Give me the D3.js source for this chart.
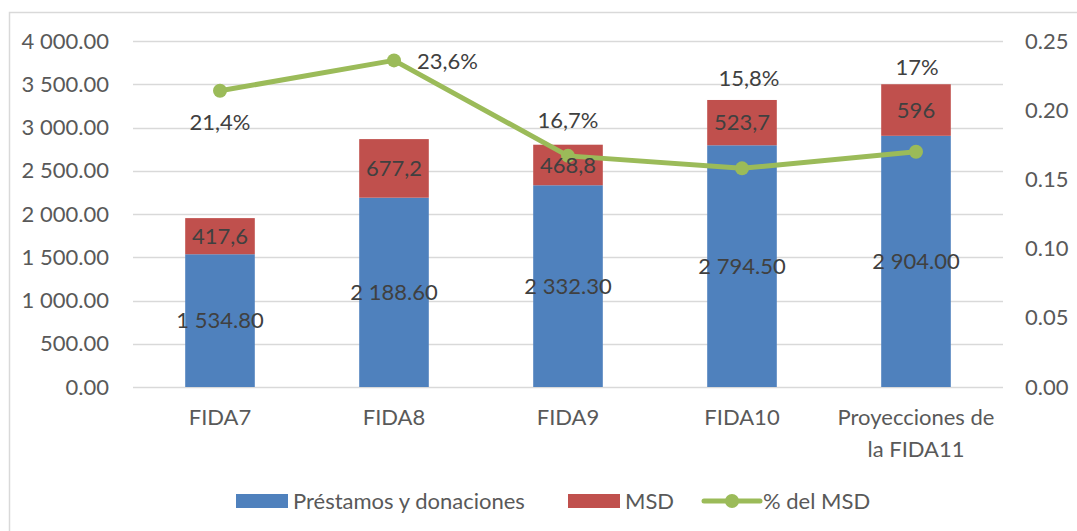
<!doctype html>
<html>
  <head>
    <meta charset="utf-8">
    <title>FIDA MSD</title>
    <style>
      * { margin: 0; padding: 0; }
      body { background: #fff; font-family: Lato, "Open Sans", sans-serif; }
      svg text { font-family: Lato, "Open Sans", sans-serif; }
    </style>
    <script src="https://d3js.org/d3.v7.min.js"></script>
  </head>
  <body>
    <script>
      // datos
      var categorias = [["FIDA7"], ["FIDA8"], ["FIDA9"], ["FIDA10"], ["Proyecciones de", "la FIDA11"]];
      var prestamos = [1534.8, 2188.6, 2332.3, 2794.5, 2904.0];
      var msd = [417.6, 677.2, 468.8, 523.7, 596];
      var pctMsd = [0.214, 0.236, 0.167, 0.158, 0.17];
      var ticksIzq = [0, 500, 1000, 1500, 2000, 2500, 3000, 3500, 4000];
      var ticksDer = [0, 0.05, 0.10, 0.15, 0.20, 0.25];
      var leyenda = ["Préstamos y donaciones", "MSD", "% del MSD"];

      // desplazamiento de las etiquetas de % (movidas a mano en el original)
      var despPct = [[0, 31], [23, 1], [0, -36], [7, -90], [1, -84]];

      var W = 1077, H = 531;
      var mLeft = 133, mRight = 1003, mTop = 41, mBottom = 387;
      var azul = "#4f81bd", rojo = "#c0504d", verde = "#9bbb59";
      var gris = "#595959", oscuro = "#404040";
      var fs = "22px";

      var loc = d3.formatLocale({ decimal: ".", thousands: "\u00a0", grouping: [3] });
      var fmtIzq = loc.format(",.2f");
      var fmtDer = d3.format(".2f");

      var svg = d3.select("body").append("svg").attr("width", W).attr("height", H);

      // marco del grafico
      svg.append("rect")
        .attr("x", 9.5).attr("y", 12.5)
        .attr("width", W + 20).attr("height", H + 20)
        .attr("fill", "none").attr("stroke", "#d9d9d9").attr("stroke-width", 1.5);

      var x = d3.scaleBand().domain(d3.range(categorias.length)).range([mLeft, mRight]).paddingInner(0.6).paddingOuter(0.3);
      var y = d3.scaleLinear().domain([0, 4000]).range([mBottom, mTop]);
      var y2 = d3.scaleLinear().domain([0, 0.25]).range([mBottom, mTop]);

      // rejilla
      svg.append("g").selectAll("line").data(ticksIzq).join("line")
        .attr("x1", mLeft).attr("x2", mRight)
        .attr("y1", d => Math.round(y(d)) + 0.5).attr("y2", d => Math.round(y(d)) + 0.5)
        .attr("stroke", "#d9d9d9").attr("stroke-width", 1.5);

      // eje izquierdo
      var ejeIzq = svg.append("g").attr("transform", "translate(" + (mLeft - 24) + ",0)")
        .call(d3.axisLeft(y).tickValues(ticksIzq).tickFormat(fmtIzq).tickSize(0).tickPadding(0));
      ejeIzq.select(".domain").remove();
      ejeIzq.selectAll("text").attr("fill", gris).style("font-size", fs);

      // eje derecho
      var ejeDer = svg.append("g").attr("transform", "translate(" + (mRight + 22) + ",0)")
        .call(d3.axisRight(y2).tickValues(ticksDer).tickFormat(fmtDer).tickSize(0).tickPadding(0));
      ejeDer.select(".domain").remove();
      ejeDer.selectAll("text").attr("fill", gris).style("font-size", fs);

      // etiquetas de categoria
      var cat = svg.append("g").selectAll("text").data(categorias).join("text")
        .attr("x", (d, i) => x(i) + x.bandwidth() / 2)
        .attr("y", 425)
        .attr("text-anchor", "middle")
        .attr("fill", gris).style("font-size", fs);
      cat.selectAll("tspan").data(d => d).join("tspan")
        .attr("x", function () { return d3.select(this.parentNode).attr("x"); })
        .attr("dy", (d, j) => j === 0 ? 0 : 32)
        .text(d => d);

      // barras apiladas
      svg.append("g").selectAll("rect").data(prestamos).join("rect")
        .attr("x", (d, i) => x(i)).attr("width", x.bandwidth())
        .attr("y", d => y(d)).attr("height", d => y(0) - y(d))
        .attr("fill", azul);

      svg.append("g").selectAll("rect").data(msd).join("rect")
        .attr("x", (d, i) => x(i)).attr("width", x.bandwidth())
        .attr("y", (d, i) => y(prestamos[i] + d)).attr("height", (d, i) => y(prestamos[i]) - y(prestamos[i] + d))
        .attr("fill", rojo);

      // linea % del MSD
      var linea = d3.line().x((d, i) => x(i) + x.bandwidth() / 2).y(d => y2(d));
      svg.append("path").datum(pctMsd)
        .attr("d", linea).attr("fill", "none")
        .attr("stroke", verde).attr("stroke-width", 5).attr("stroke-linejoin", "round");
      svg.append("g").selectAll("circle").data(pctMsd).join("circle")
        .attr("cx", (d, i) => x(i) + x.bandwidth() / 2).attr("cy", d => y2(d))
        .attr("r", 7).attr("fill", verde);

      // etiquetas de las barras (encima de la linea, como en Excel)
      svg.append("g").selectAll("text").data(prestamos).join("text")
        .attr("x", (d, i) => x(i) + x.bandwidth() / 2)
        .attr("y", d => (y(0) + y(d)) / 2)
        .attr("dy", "0.35em").attr("text-anchor", "middle")
        .attr("fill", oscuro).style("font-size", fs)
        .text(d => fmtIzq(d));

      svg.append("g").selectAll("text").data(msd).join("text")
        .attr("x", (d, i) => x(i) + x.bandwidth() / 2)
        .attr("y", (d, i) => (y(prestamos[i]) + y(prestamos[i] + d)) / 2)
        .attr("dy", "0.35em").attr("text-anchor", "middle")
        .attr("fill", oscuro).style("font-size", fs)
        .text(d => String(d).replace(".", ","));

      svg.append("g").selectAll("text").data(pctMsd).join("text")
        .attr("x", (d, i) => x(i) + x.bandwidth() / 2 + despPct[i][0])
        .attr("y", (d, i) => y2(d) + despPct[i][1])
        .attr("dy", "0.35em")
        .attr("text-anchor", (d, i) => i === 1 ? "start" : "middle")
        .attr("fill", oscuro).style("font-size", fs)
        .text(d => (+(d * 100).toFixed(1)).toString().replace(".", ",") + "%");

      // leyenda
      var ley = svg.append("g").attr("transform", "translate(236,501)");
      var posLey = [0, 332, 468];
      leyenda.forEach(function (t, i) {
        var g = ley.append("g").attr("transform", "translate(" + posLey[i] + ",0)");
        if (i < 2) {
          g.append("rect").attr("x", 0).attr("y", -7).attr("width", 52).attr("height", 14)
            .attr("fill", i === 0 ? azul : rojo);
        } else {
          g.append("line").attr("x1", 0).attr("x2", 56).attr("y1", 0).attr("y2", 0)
            .attr("stroke", verde).attr("stroke-width", 5).attr("stroke-linecap", "round");
          g.append("circle").attr("cx", 28).attr("cy", 0).attr("r", 7).attr("fill", verde);
        }
        g.append("text").attr("x", i < 2 ? 57 : 59).attr("y", 0).attr("dy", "0.35em")
          .attr("fill", gris).style("font-size", fs).text(t);
      });
    </script>
  </body>
</html>
